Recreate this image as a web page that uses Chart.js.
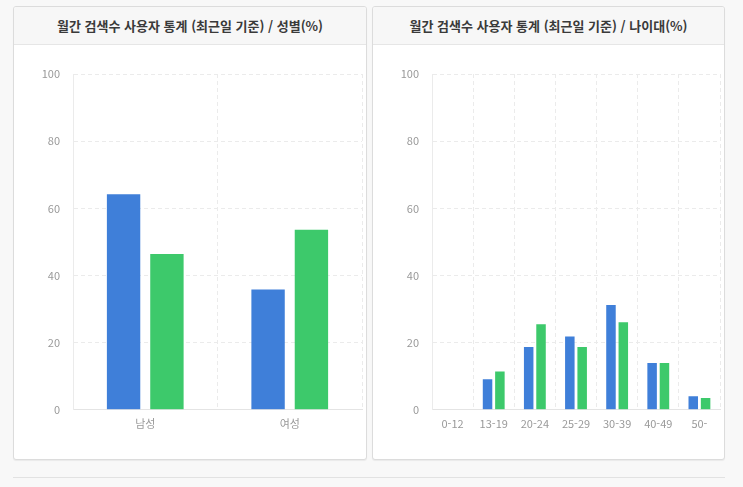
<!DOCTYPE html>
<html lang="ko">
<head>
<meta charset="utf-8">
<script src="https://cdn.jsdelivr.net/npm/chart.js@4/dist/chart.umd.min.js"></script>
<style>
  html, body { margin: 0; padding: 0; }
  body { width: 743px; height: 487px; background: #f8f8f8; position: relative; overflow: hidden;
         font-family: "Noto Sans CJK KR", "Noto Sans", sans-serif; }
  .card { position: absolute; top: 6px; height: 452px; background: #fff; border: 1px solid #dcdcdc;
          border-radius: 3px; box-shadow: 0 1px 1px rgba(0,0,0,0.06); overflow: hidden; }
  .card-head { height: 37px; line-height: 37px; background: #f7f7f7; border-bottom: 1px solid #e6e6e6;
               text-align: center; font-size: 13px; font-weight: bold; color: #3a3a3a; }
  .card-body { position: absolute; left: 0; top: 38px; right: 0; bottom: 0; }
  #cardGender { left: 13px; width: 352px; }
  #cardAge { left: 372px; width: 351px; }
  .rule { position: absolute; left: 13px; width: 712px; top: 477px; height: 1px; background: #e2e2e2; }
</style>
</head>
<body>
<div class="card" id="cardGender">
  <div class="card-head">월간 검색수 사용자 통계 (최근일 기준) / 성별(%)</div>
  <div class="card-body"><canvas id="genderChart"></canvas></div>
</div>
<div class="card" id="cardAge">
  <div class="card-head">월간 검색수 사용자 통계 (최근일 기준) / 나이대(%)</div>
  <div class="card-body"><canvas id="ageChart"></canvas></div>
</div>
<div class="rule"></div>

<script>
const genderLabels = ['남성', '여성'];
const genderBlue = [64.2, 35.8];
const genderGreen = [46.4, 53.6];

const ageLabels = ['0-12', '13-19', '20-24', '25-29', '30-39', '40-49', '50-'];
const ageBlue = [0, 9.1, 18.7, 21.8, 31.2, 13.9, 4.0];
const ageGreen = [0, 11.4, 25.5, 18.7, 26.1, 13.9, 3.5];

const yTicks = [0, 20, 40, 60, 80, 100];

const BLUE = '#3f7fd9';
const GREEN = '#3dc96b';

// options communes aux deux graphiques
function makeOptions() {
  const tickFont = { family: '"Noto Sans CJK KR", "Noto Sans", sans-serif', size: 11 };
  return {
    responsive: true,
    maintainAspectRatio: false,
    animation: false,
    layout: { padding: { top: 29, right: 4, bottom: 22, left: 14 } },
    plugins: { legend: { display: false }, tooltip: { enabled: false } },
    datasets: { bar: { categoryPercentage: 0.6, barPercentage: 0.77 } },
    scales: {
      x: {
        grid: { color: '#ebebeb', drawTicks: false, offset: true },
        border: { color: '#e4e4e4', dash: [4, 3] },
        ticks: { color: '#999', font: tickFont, padding: 7 }
      },
      y: {
        min: 0,
        max: 100,
        afterBuildTicks: (scale) => { scale.ticks = yTicks.map(v => ({ value: v })); },
        afterFit: (scale) => { scale.width = 45; },
        grid: { color: '#ebebeb', drawTicks: false },
        border: { color: '#ebebeb', dash: [4, 3] },
        ticks: { color: '#999', font: tickFont, padding: 13 }
      }
    }
  };
}

function createBarChart(canvasId, labels, blue, green) {
  return new Chart(document.getElementById(canvasId), {
    type: 'bar',
    data: {
      labels: labels,
      datasets: [
        { data: blue, backgroundColor: BLUE },
        { data: green, backgroundColor: GREEN }
      ]
    },
    options: makeOptions()
  });
}

createBarChart('genderChart', genderLabels, genderBlue, genderGreen);
createBarChart('ageChart', ageLabels, ageBlue, ageGreen);
</script>
</body>
</html>
